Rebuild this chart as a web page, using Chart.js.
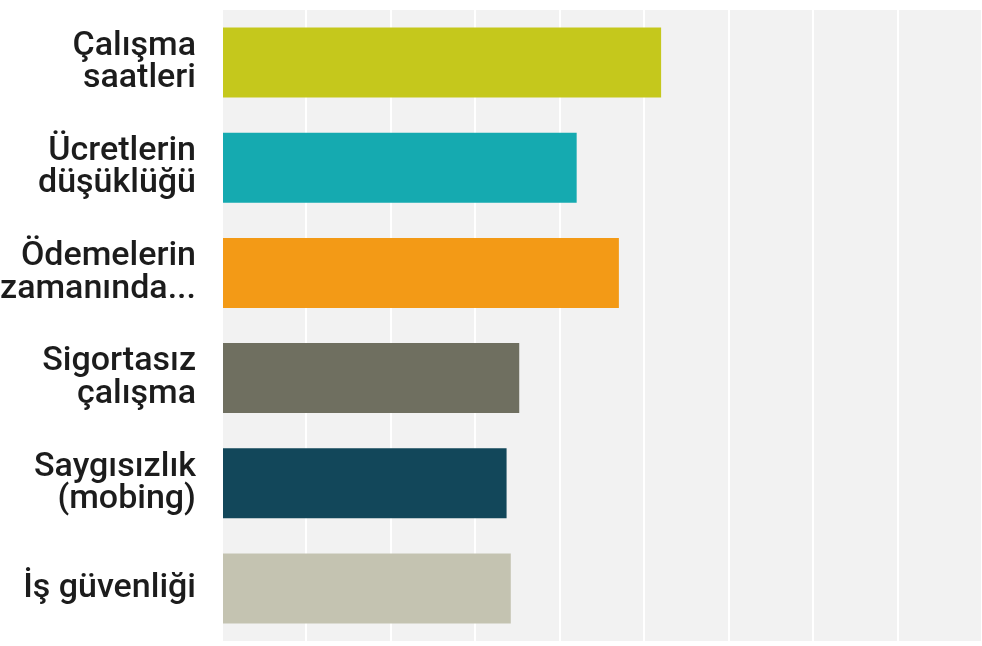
<!DOCTYPE html>
<html>
<head>
<meta charset="utf-8">
<script src="https://cdn.jsdelivr.net/npm/chart.js@4"></script>
<style>
  html, body { margin: 0; padding: 0; background: #fff; }
  #wrap { width: 982px; height: 646px; position: relative; }
</style>
</head>
<body>
<div id="wrap"><canvas id="chart"></canvas></div>
<script>
// categories and values
const categories = [
  ['Çalışma', 'saatleri'],
  ['Ücretlerin', 'düşüklüğü'],
  ['Ödemelerin', 'zamanında...'],
  ['Sigortasız', 'çalışma'],
  ['Saygısızlık', '(mobing)'],
  ['İş güvenliği']
];
const values = [5.2, 4.2, 4.7, 3.52, 3.37, 3.42];
const barColors = ['#c5c81c', '#15aab0', '#f39a16', '#6f6f60', '#12475a', '#c4c3b1'];
const xMax = 9;

// gray plot background
const plotBg = {
  id: 'plotBg',
  beforeDraw(chart) {
    const { ctx, chartArea: a } = chart;
    ctx.save();
    ctx.fillStyle = '#f2f2f2';
    ctx.fillRect(a.left, a.top, a.right - a.left, a.bottom - a.top);
    ctx.restore();
  }
};

new Chart(document.getElementById('chart'), {
  type: 'bar',
  data: {
    labels: categories,
    datasets: [{
      data: values,
      backgroundColor: barColors,
      borderWidth: 0,
      categoryPercentage: 1,
      barPercentage: 0.665
    }]
  },
  options: {
    indexAxis: 'y',
    responsive: true,
    maintainAspectRatio: false,
    animation: false,
    layout: { padding: { top: 10, right: 0, bottom: 0, left: 0 } },
    plugins: { legend: { display: false }, tooltip: { enabled: false } },
    scales: {
      x: {
        min: 0,
        max: xMax,
        ticks: { display: false, stepSize: 1 },
        grid: { color: '#ffffff', lineWidth: 2, drawTicks: false },
        border: { display: false },
        afterFit(scale) { scale.height = 5; scale.paddingLeft = 0; scale.paddingRight = 0; }
      },
      y: {
        grid: { display: false, drawTicks: false },
        border: { display: false },
        ticks: {
          color: '#1c1c1c',
          padding: 26,
          font: { family: 'Roboto', size: 34, weight: '500', lineHeight: 0.95 }
        },
        afterFit(scale) { scale.width = 222; scale.paddingTop = 0; scale.paddingBottom = 0; }
      }
    }
  },
  plugins: [plotBg]
});
</script>
</body>
</html>
